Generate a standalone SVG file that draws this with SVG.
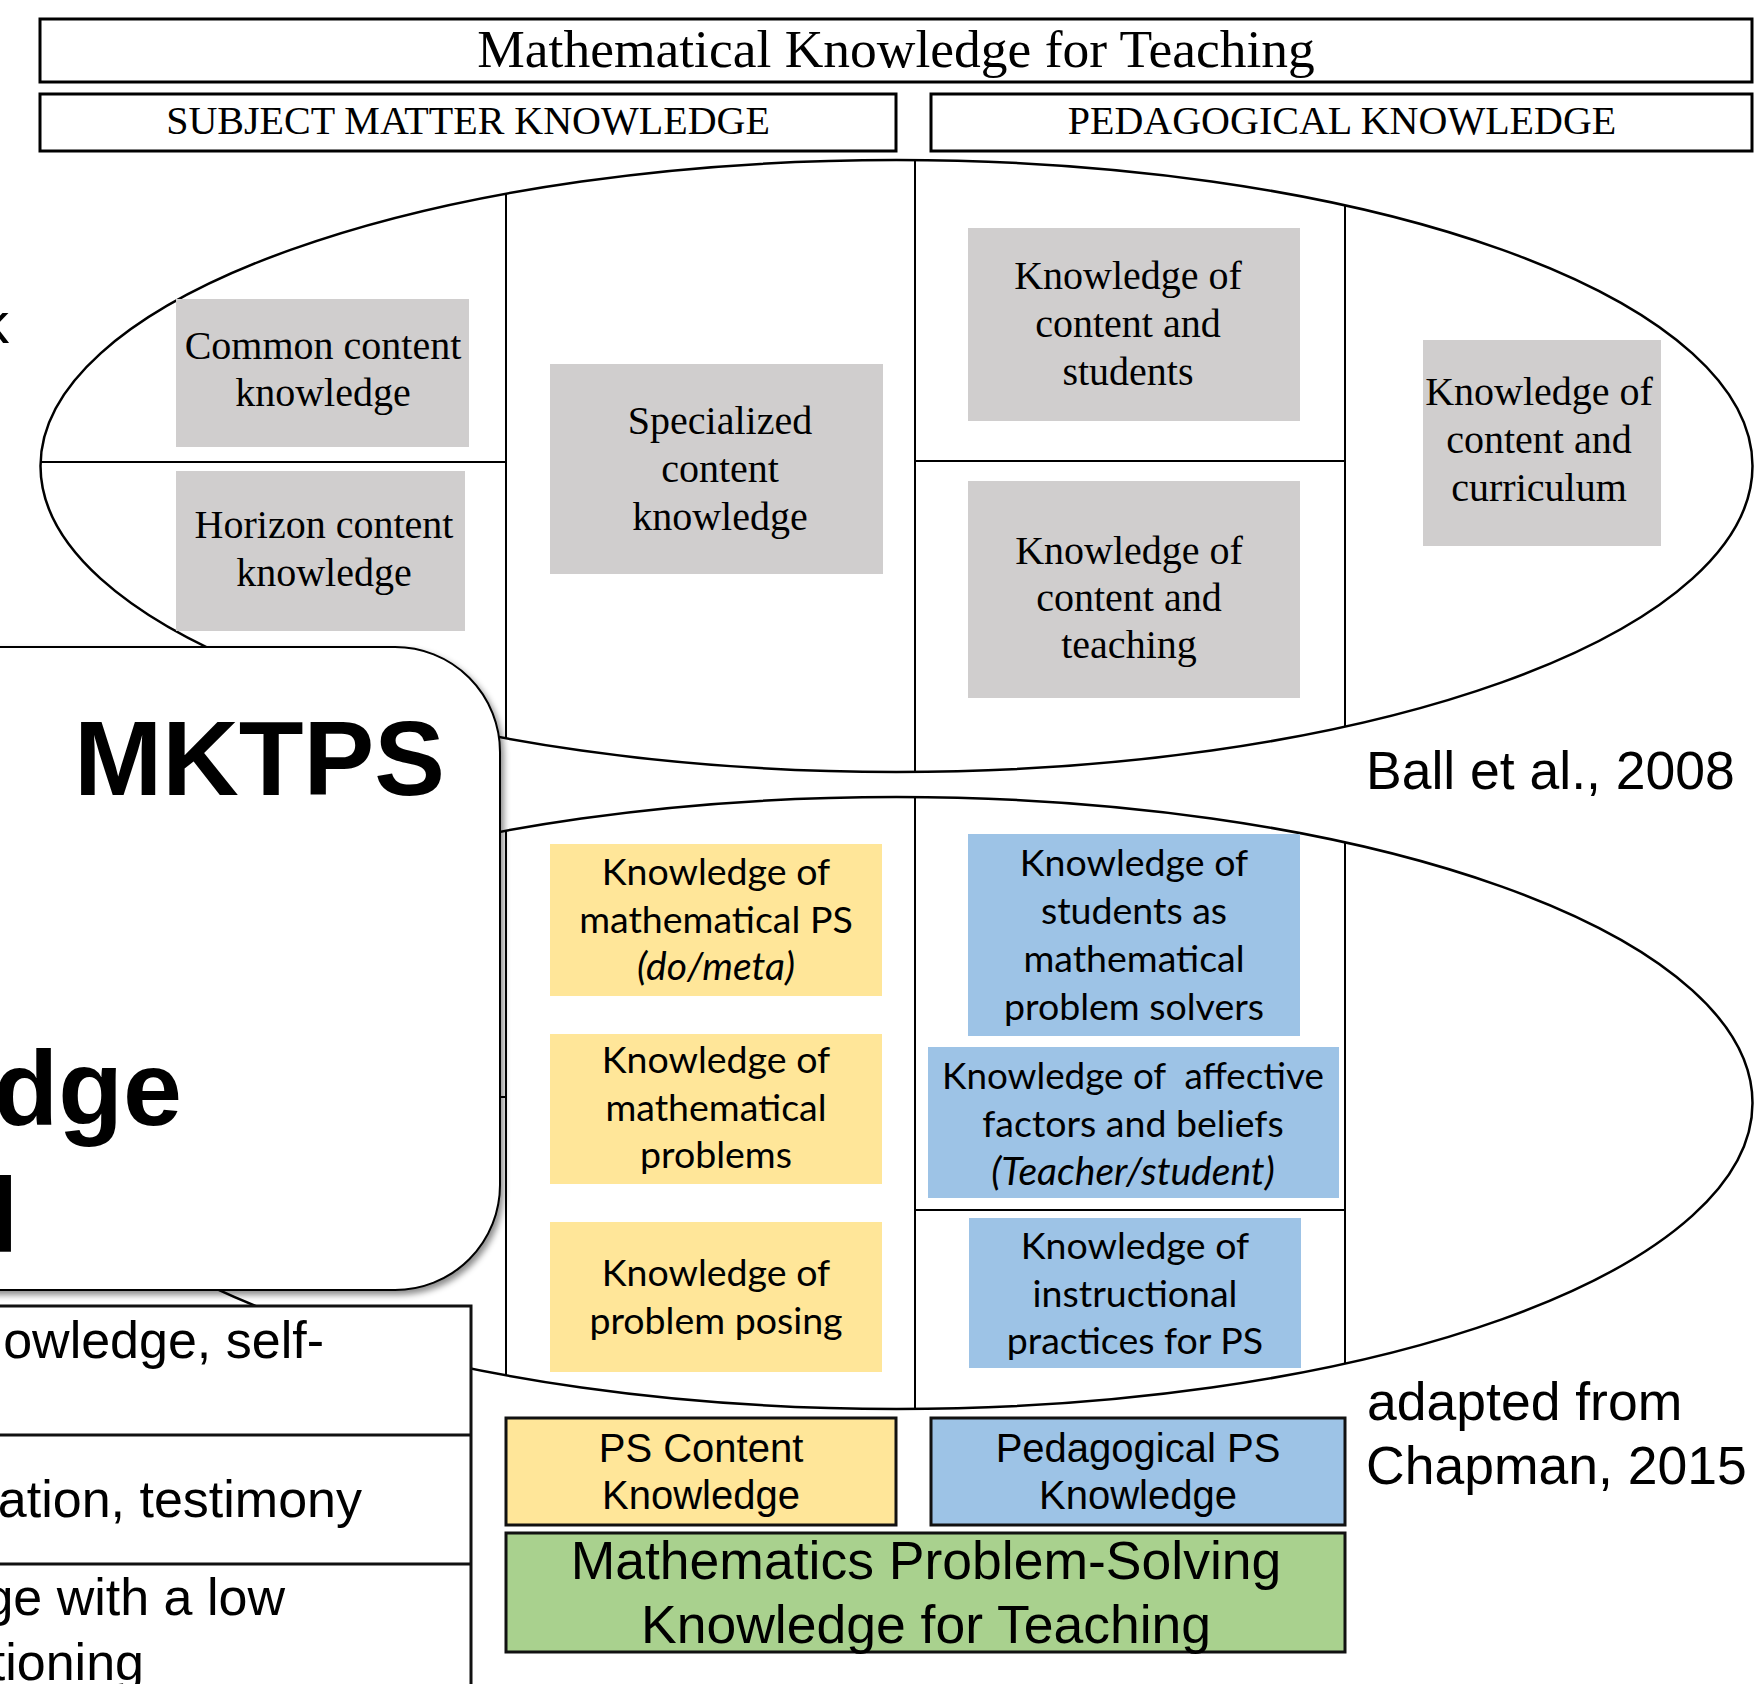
<svg xmlns="http://www.w3.org/2000/svg" width="1756" height="1684" viewBox="0 0 1756 1684">
  <defs>
    <style>
      .hdr { fill: #fff; stroke: #000; stroke-width: 3; }
      .serif { font-family: "Liberation Serif", "Times New Roman", serif; fill: #000; text-anchor: middle; }
      .cell { font-size: 40px; }
      .gray { fill: #D0CECE; }
      .yel { fill: #FFE699; }
      .blu { fill: #9DC3E6; }
      .grn { fill: #A9D18E; }
      .cal { font-family: Lato, "Noto Sans", sans-serif; font-size: 37.5px; fill: #000; text-anchor: middle; white-space: pre; }
      .it { font-style: italic; font-size: 39px; }
      .tight { font-size: 36.8px; }
      .sans { font-family: "Liberation Sans", Arial, sans-serif; fill: #000; }
      .mid { text-anchor: middle; }
      .end { text-anchor: end; }
      .big { font-size: 106px; font-weight: bold; }
      .ell { fill: none; stroke: #000; stroke-width: 2.5; }
      .div { stroke: #000; stroke-width: 2; fill: none; }
      .box { stroke: #111; stroke-width: 3; }
    </style>
    <filter id="shadow" x="-10%" y="-10%" width="130%" height="130%">
      <feDropShadow dx="3" dy="4" stdDeviation="3" flood-color="#000" flood-opacity="0.45"/>
    </filter>
  </defs>

  <rect width="1756" height="1684" fill="#fff"/>

  <!-- ellipse outlines and the dividers between the knowledge domains -->
  <g id="connectors">
    <ellipse class="ell" cx="896.5" cy="466" rx="856" ry="306"/>
    <line class="div" x1="506" y1="193.7" x2="506" y2="738.3"/>
    <line class="div" x1="915" y1="160.1" x2="915" y2="771.9"/>
    <line class="div" x1="1345" y1="205.4" x2="1345" y2="726.6"/>
    <line class="div" x1="40.6" y1="462" x2="506" y2="462"/>
    <line class="div" x1="915" y1="461" x2="1345" y2="461"/>

    <ellipse class="ell" cx="896.5" cy="1103" rx="856" ry="306"/>
    <line class="div" x1="506" y1="830.7" x2="506" y2="1375.3"/>
    <line class="div" x1="915" y1="797.1" x2="915" y2="1408.9"/>
    <line class="div" x1="1345" y1="842.4" x2="1345" y2="1363.6"/>
    <line class="div" x1="41" y1="1097" x2="506" y2="1097"/>
    <line class="div" x1="915" y1="1210" x2="1345" y2="1210"/>
  </g>

  <!-- header bars -->
  <g id="title">
    <rect class="hdr" x="40" y="19" width="1712" height="63"/>
    <text class="serif" x="896" y="67" font-size="53.5">Mathematical Knowledge for Teaching</text>
  </g>
  <g id="subject-matter">
    <rect class="hdr" x="40" y="94" width="856" height="57"/>
    <text class="serif" x="468" y="134" font-size="40">SUBJECT MATTER KNOWLEDGE</text>
  </g>
  <g id="pedagogical">
    <rect class="hdr" x="931" y="94" width="821" height="57"/>
    <text class="serif" x="1342" y="134" font-size="40">PEDAGOGICAL KNOWLEDGE</text>
  </g>

  <!-- MKT domains -->
  <g id="cck">
    <rect class="gray" x="176" y="299" width="293" height="148"/>
    <text class="serif cell" x="323" y="359">Common content</text>
    <text class="serif cell" x="323" y="406">knowledge</text>
  </g>
  <g id="hck">
    <rect class="gray" x="176" y="471" width="289" height="160"/>
    <text class="serif cell" x="324" y="538">Horizon content</text>
    <text class="serif cell" x="324" y="586">knowledge</text>
  </g>
  <g id="sck">
    <rect class="gray" x="550" y="364" width="333" height="210"/>
    <text class="serif cell" x="720" y="434">Specialized</text>
    <text class="serif cell" x="720" y="482">content</text>
    <text class="serif cell" x="720" y="530">knowledge</text>
  </g>
  <g id="kcs">
    <rect class="gray" x="968" y="228" width="332" height="193"/>
    <text class="serif cell" x="1128" y="289">Knowledge of</text>
    <text class="serif cell" x="1128" y="337">content and</text>
    <text class="serif cell" x="1128" y="385">students</text>
  </g>
  <g id="kct">
    <rect class="gray" x="968" y="481" width="332" height="217"/>
    <text class="serif cell" x="1129" y="564">Knowledge of</text>
    <text class="serif cell" x="1129" y="611">content and</text>
    <text class="serif cell" x="1129" y="658">teaching</text>
  </g>
  <g id="kcc">
    <rect class="gray" x="1423" y="340" width="238" height="206"/>
    <text class="serif cell" x="1539" y="405">Knowledge of</text>
    <text class="serif cell" x="1539" y="453">content and</text>
    <text class="serif cell" x="1539" y="501">curriculum</text>
  </g>

  <!-- MKTPS domains -->
  <g id="k-math-ps">
    <rect class="yel" x="550" y="844" width="332" height="152"/>
    <text class="cal" x="716" y="885">Knowledge of</text>
    <text class="cal" x="716" y="933">mathematical PS</text>
    <text class="cal it" x="716" y="980">(do/meta)</text>
  </g>
  <g id="k-math-problems">
    <rect class="yel" x="550" y="1034" width="332" height="150"/>
    <text class="cal" x="716" y="1073">Knowledge of</text>
    <text class="cal" x="716" y="1121">mathematical</text>
    <text class="cal" x="716" y="1168">problems</text>
  </g>
  <g id="k-posing">
    <rect class="yel" x="550" y="1222" width="332" height="150"/>
    <text class="cal" x="716" y="1286">Knowledge of</text>
    <text class="cal" x="716" y="1334">problem posing</text>
  </g>
  <g id="k-students">
    <rect class="blu" x="968" y="834" width="332" height="202"/>
    <text class="cal" x="1134" y="876">Knowledge of</text>
    <text class="cal" x="1134" y="924">students as</text>
    <text class="cal" x="1134" y="972">mathematical</text>
    <text class="cal" x="1134" y="1020">problem solvers</text>
  </g>
  <g id="k-affective">
    <rect class="blu" x="928" y="1047" width="411" height="151"/>
    <text class="cal tight" x="1133" y="1089">Knowledge of  affective</text>
    <text class="cal" x="1133" y="1137">factors and beliefs</text>
    <text class="cal it" x="1133" y="1185">(Teacher/student)</text>
  </g>
  <g id="k-instruction">
    <rect class="blu" x="969" y="1218" width="332" height="150"/>
    <text class="cal" x="1135" y="1259">Knowledge of</text>
    <text class="cal" x="1135" y="1307">instructional</text>
    <text class="cal" x="1135" y="1354">practices for PS</text>
  </g>

  <!-- summary bars -->
  <g id="ps-content">
    <rect class="yel box" x="506" y="1418" width="390" height="107"/>
    <text class="sans mid" x="701" y="1462" font-size="40">PS Content</text>
    <text class="sans mid" x="701" y="1509" font-size="40">Knowledge</text>
  </g>
  <g id="ped-ps">
    <rect class="blu box" x="931" y="1418" width="414" height="107"/>
    <text class="sans mid" x="1138" y="1462" font-size="40">Pedagogical PS</text>
    <text class="sans mid" x="1138" y="1509" font-size="40">Knowledge</text>
  </g>
  <g id="mpsk">
    <rect class="grn box" x="506" y="1533" width="839" height="119"/>
    <text class="sans mid" x="926" y="1579" font-size="53.5">Mathematics Problem-Solving</text>
    <text class="sans mid" x="926" y="1643" font-size="53.5">Knowledge for Teaching</text>
  </g>

  <!-- sources -->
  <g id="sources">
    <text class="sans" x="1366" y="789" font-size="53.5">Ball et al., 2008</text>
    <text class="sans" x="1367" y="1420" font-size="53.5">adapted from</text>
    <text class="sans" x="1366" y="1484" font-size="53.5">Chapman, 2015</text>
  </g>

  <!-- overlapping slide elements at the left edge -->
  <g id="side-label">
    <text class="sans" x="-20" y="343" font-size="58">k</text>
  </g>
  <g id="mktps">
    <rect x="-300" y="647" width="800" height="643" rx="105" ry="105" fill="#fff" stroke="#000" stroke-width="2" filter="url(#shadow)"/>
    <text class="sans big end" x="445" y="795">MKTPS</text>
    <text class="sans big end" x="182" y="1125">dge</text>
    <text class="sans big" x="-11" y="1252">l</text>
  </g>
  <g id="table">
    <rect x="-300" y="1306" width="771" height="500" fill="#fff" stroke="#111" stroke-width="3"/>
    <line x1="0" y1="1435" x2="471" y2="1435" stroke="#111" stroke-width="3"/>
    <line x1="0" y1="1564" x2="471" y2="1564" stroke="#111" stroke-width="3"/>
    <text class="sans end" x="324" y="1358" font-size="52">owledge, self-</text>
    <text class="sans end" x="362" y="1517" font-size="52">ation, testimony</text>
    <text class="sans end" x="285" y="1615" font-size="52">ge with a low</text>
    <text class="sans end" x="144" y="1680" font-size="52">tioning</text>
  </g>
</svg>
